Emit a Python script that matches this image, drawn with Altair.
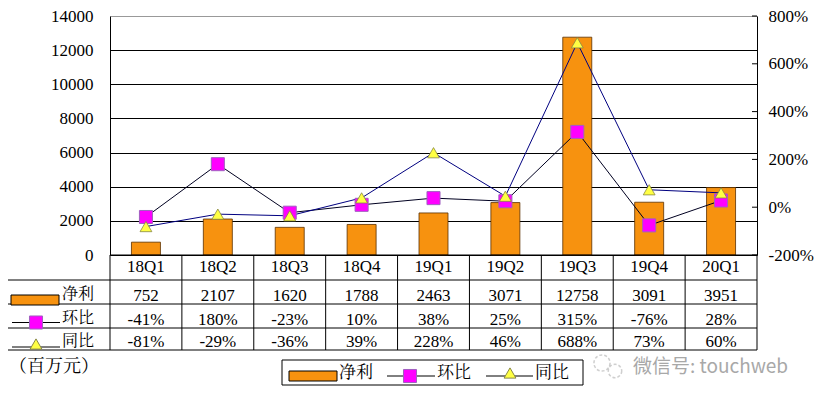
import altair as alt
import pandas as pd

cats = ["18Q1", "18Q2", "18Q3", "18Q4", "19Q1", "19Q2", "19Q3", "19Q4", "20Q1"]
net = [752, 2107, 1620, 1788, 2463, 3071, 12758, 3091, 3951]
qoq = [-41, 180, -23, 10, 38, 25, 315, -76, 28]
yoy = [-81, -29, -36, 39, 228, 46, 688, 73, 60]
series = ["净利", "环比", "同比"]
unit_label = "（百万元）"
watermark = "微信号: touchweb"
left_ticks = [0, 2000, 4000, 6000, 8000, 10000, 12000, 14000]
right_ticks = [-200, 0, 200, 400, 600, 800]

W, H = 647, 239
ORANGE = "#F7920F"
MAGENTA = "#FF00FF"
SQ_EDGE = "#A060C0"
YELLOW = "#FFFF44"
TRI_EDGE = "#888844"
F = "Liberation Serif"
FC = "Noto Serif CJK SC"
FS = 17

df = pd.DataFrame({"q": cats, "net": net, "qoq": qoq, "yoy": yoy})
xscale = alt.Scale(paddingInner=0, paddingOuter=0)
X = alt.X("q:N", sort=cats, scale=xscale, axis=None)

one = alt.Data(values=[{"a": 1}])


def rule(x, x2, y, y2, color="black", width=1):
    return alt.Chart(one).mark_rule(color=color, strokeWidth=width).encode(
        x=alt.value(x), x2=alt.value(x2), y=alt.value(y), y2=alt.value(y2))


def label(s, x, y, size=FS, color="black", align="center", font=FC):
    return alt.Chart(alt.Data(values=[{"t": s}])).mark_text(
        fontSize=size, color=color, align=align, baseline="middle", font=font
    ).encode(x=alt.value(x), y=alt.value(y), text="t:N")


def box(x, x2, y, y2, fill, stroke="black"):
    return alt.Chart(one).mark_rect(fill=fill, stroke=stroke, strokeWidth=1).encode(
        x=alt.value(x), x2=alt.value(x2), y=alt.value(y), y2=alt.value(y2))


def sym(shape, x, y, fill, stroke, size=170):
    return alt.Chart(one).mark_point(
        shape=shape, filled=True, fill=fill, stroke=stroke, strokeWidth=1,
        size=size, opacity=1
    ).encode(x=alt.value(x), y=alt.value(y))


# Left axis bars
bars = alt.Chart(df).mark_bar(size=29, color=ORANGE, stroke="#5A3000", strokeWidth=0.8).encode(
    x=X,
    y=alt.Y("net:Q", scale=alt.Scale(domain=[0, 14000], nice=False),
            axis=alt.Axis(values=left_ticks, title=None, grid=True, format="d",
                          gridColor={"condition": {"test": "datum.value === 14000", "value": "#999999"},
                                     "value": "black"},
                          gridWidth=1, ticks=False, domainColor="black",
                          labelFont=F, labelFontSize=FS, labelColor="black",
                          labelPadding=17)),
)

# Right axis lines
psc = alt.Scale(domain=[-200, 800], nice=False)
rax = alt.Axis(orient="right", values=right_ticks, title=None, grid=False, ticks=False,
               labelPadding=11, labelExpr="datum.value + '%'", domainColor="black",
               labelFont=F, labelFontSize=FS, labelColor="black")
qdf = pd.DataFrame({"q": cats, "v": qoq})
ydf = pd.DataFrame({"q": cats, "v": yoy})
Yp = alt.Y("v:Q", scale=psc, axis=rax)

line_q = alt.Chart(qdf).mark_line(color="#000020", strokeWidth=1).encode(x=X, y=Yp)
line_y = alt.Chart(ydf).mark_line(color="#000080", strokeWidth=1).encode(x=X, y=Yp)
pt_q = alt.Chart(qdf).mark_point(shape="square", filled=True, fill=MAGENTA, stroke=SQ_EDGE,
                                 strokeWidth=1, size=170, opacity=1).encode(x=X, y=Yp)
pt_y = alt.Chart(ydf).mark_point(shape="triangle-up", filled=True, fill=YELLOW, stroke=TRI_EDGE,
                                 strokeWidth=0.8, size=140, opacity=1).encode(x=X, y=Yp)
rtick = alt.Chart(pd.DataFrame({"v": right_ticks})).mark_rule(color="black").encode(
    y=Yp, x=alt.value(W - 5), x2=alt.value(W))
right = alt.layer(line_q, line_y, pt_q, pt_y, rtick)

# Data table
ROW_Y = [264, 288, 312, 334]
TL = -106
layers = []
layers.append(rule(0, W, H, H))
for yy in ROW_Y:
    layers.append(rule(TL, W, yy, yy))
layers.append(rule(TL, TL, ROW_Y[0], ROW_Y[-1]))
layers.append(alt.Chart(df).mark_rule(color="black").encode(
    x=alt.X("q:N", sort=cats, scale=xscale, axis=None, bandPosition=0),
    y=alt.value(H), y2=alt.value(ROW_Y[-1])))
layers.append(rule(W, W, H, ROW_Y[-1]))

tf = dict(fontSize=FS, font=F, color="black", baseline="middle")
layers.append(alt.Chart(df).mark_text(**tf).encode(x=X, y=alt.value(251), text="q:N"))
layers.append(alt.Chart(df).mark_text(**tf).encode(x=X, y=alt.value(279.5), text=alt.Text("net:Q", format="d")))
layers.append(alt.Chart(df).transform_calculate(t="datum.qoq + '%'").mark_text(**tf).encode(
    x=X, y=alt.value(303.5), text="t:N"))
layers.append(alt.Chart(df).transform_calculate(t="datum.yoy + '%'").mark_text(**tf).encode(
    x=X, y=alt.value(325.5), text="t:N"))

# Table left column keys
layers.append(box(-99, -51, 279, 289, ORANGE))
layers.append(label(series[0], -32, 278, size=16))
layers.append(rule(-98, -50, 306.5, 306.5))
layers.append(sym("square", -74, 306.5, MAGENTA, SQ_EDGE))
layers.append(label(series[1], -32, 302, size=16))
layers.append(rule(-98, -50, 331, 331))
layers.append(sym("triangle-up", -74, 328, YELLOW, TRI_EDGE, 140))
layers.append(label(series[2], -32, 324.5, size=16))

# Unit text
layers.append(label(unit_label, -56, 351, size=18))

# Legend box
layers.append(box(172, 473, 344, 369, "white"))
layers.append(box(179, 227, 355, 365, ORANGE))
layers.append(label(series[0], 246, 357))
layers.append(rule(277, 325, 360, 360))
layers.append(sym("square", 300, 360, MAGENTA, SQ_EDGE))
layers.append(label(series[1], 344, 357))
layers.append(rule(376, 423, 360, 360))
layers.append(sym("triangle-up", 400, 357, YELLOW, TRI_EDGE, 140))
layers.append(label(series[2], 442, 357))

# Watermark
layers.append(alt.Chart(one).mark_point(shape="circle", size=260, stroke="#BBBBBB", strokeWidth=1.5,
                                        filled=False, strokeDash=[3, 2]).encode(x=alt.value(492), y=alt.value(347)))
layers.append(alt.Chart(one).mark_point(shape="circle", size=180, stroke="#BBBBBB", strokeWidth=1.5,
                                        filled=False, strokeDash=[3, 2]).encode(x=alt.value(505), y=alt.value(355)))
layers.append(label(watermark, 523, 351, size=19, color="#A8A8A8", align="left",
                    font="Noto Sans CJK SC"))

chart = alt.layer(bars, right, *layers).resolve_scale(y="independent").properties(
    width=W, height=H,
    padding={"left": 102, "top": 8, "right": 57, "bottom": 139},
    autosize=alt.AutoSizeParams(type="none"),
).configure(background="white").configure_view(stroke=None)

chart.save("out.html", embed_options={"renderer": "svg", "actions": False})
